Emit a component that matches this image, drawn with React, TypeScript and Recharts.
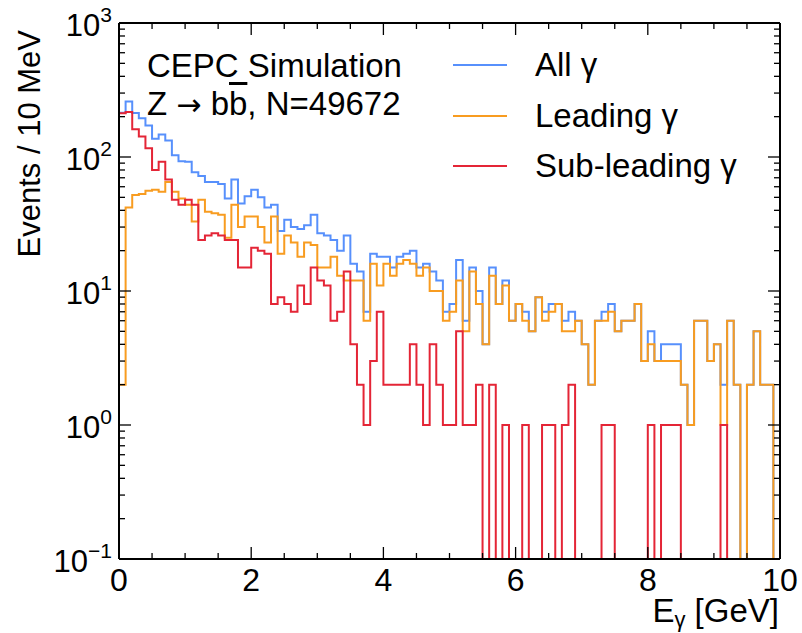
import React from "react";
import { LineChart, Line, XAxis, YAxis, Legend } from "recharts";

const FONT = '"Liberation Sans", Arial, Helvetica, sans-serif';

// 100 bins of 0.1 GeV between 0 and 10 GeV
const BIN_WIDTH = 0.1;

const ALL_GAMMA = [
    214, 259, 213, 195, 172, 137, 147, 133, 103, 93,
    92, 77, 72, 65, 65, 63, 49, 68, 45, 51,
    57, 50, 42, 44, 28, 34, 30, 29, 31, 37,
    27, 26, 24, 20, 26, 16, 14, 7, 19, 18,
    18, 15, 18, 19, 20, 15, 16, 14, 12, 7,
    8, 17, 6, 15, 10, 4, 15, 8, 12, 6,
    8, 7, 5, 9, 7, 8, 8, 6, 7, 6,
    4, 2, 6, 7, 8, 5, 6, 6, 8, 3,
    5, 3, 4, 4, 4, 2, 1, 6, 6, 3,
    4, 2, 6, 2, 0, 2, 5, 2, 2, 0,
];

const LEADING_GAMMA = [
    2, 42, 52, 53, 56, 57, 55, 65, 55, 49,
    44, 33, 48, 39, 38, 37, 25, 44, 30, 36,
    36, 30, 23, 36, 19, 26, 23, 18, 23, 22,
    15, 15, 18, 13, 12, 12, 12, 6, 16, 11,
    16, 13, 16, 17, 16, 13, 15, 10, 10, 6,
    7, 12, 5, 14, 8, 4, 13, 8, 11, 6,
    8, 6, 5, 9, 6, 7, 8, 5, 5, 6,
    4, 2, 6, 6, 7, 5, 6, 6, 8, 3,
    4, 3, 3, 3, 3, 2, 1, 6, 6, 3,
    4, 1, 6, 2, 0, 2, 5, 2, 2, 0,
];

const SUBLEADING_GAMMA = [
    212, 217, 161, 142, 116, 80, 92, 68, 48, 44,
    48, 44, 24, 26, 27, 26, 24, 24, 15, 15,
    21, 20, 19, 8, 9, 8, 7, 11, 8, 15,
    12, 11, 6, 7, 14, 4, 2, 1, 3, 7,
    2, 2, 2, 2, 4, 2, 1, 4, 2, 1,
    1, 5, 1, 1, 2, 0, 2, 0, 1, 0,
    0, 1, 0, 0, 1, 1, 0, 1, 2, 0,
    0, 0, 0, 1, 1, 0, 0, 0, 0, 0,
    1, 0, 1, 1, 1, 0, 0, 0, 0, 0,
    0, 1, 0, 0, 0, 0, 0, 0, 0, 0,
];

const SERIES = [
    { key: "all", name: "All γ", color: "#5790fc", values: ALL_GAMMA },
    { key: "leading", name: "Leading γ", color: "#f89c20", values: LEADING_GAMMA },
    { key: "sub", name: "Sub-leading γ", color: "#e42536", values: SUBLEADING_GAMMA },
];

const X_TICKS = [0, 0.5, 1, 1.5, 2, 2.5, 3, 3.5, 4, 4.5, 5, 5.5, 6, 6.5, 7, 7.5, 8, 8.5, 9, 9.5, 10];
const X_MAJOR = [0, 2, 4, 6, 8, 10];
const Y_TICKS = [
    0.1, 0.2, 0.3, 0.4, 0.5, 0.6, 0.7, 0.8, 0.9,
    1, 2, 3, 4, 5, 6, 7, 8, 9,
    10, 20, 30, 40, 50, 60, 70, 80, 90,
    100, 200, 300, 400, 500, 600, 700, 800, 900,
    1000,
];

// empty bins are pushed below the axis floor so the step drops out of the frame
const EMPTY = 1e-3;

const nBins = ALL_GAMMA.length;
const data = [];
for (let i = 0; i <= nBins; i++) {
    const j = Math.min(i, nBins - 1);
    const row: any = { x: +(i * BIN_WIDTH).toFixed(2) };
    SERIES.forEach(s => {
        row[s.key] = s.values[j] > 0 ? s.values[j] : EMPTY;
    });
    data.push(row);
}

const isMajorX = (v: number) => X_MAJOR.some(m => Math.abs(m - v) < 1e-6);
const isMajorY = (v: number) => Math.abs(Math.log10(v) - Math.round(Math.log10(v))) < 1e-6;

const XTick = ({ x, y, payload, side }: any) => {
    const major = isMajorX(payload.value);
    const len = major ? 12 : 6;
    const dir = side === "bottom" ? -1 : 1;
    return (
        <g>
            <line x1={x} y1={y} x2={x} y2={y + dir * len} stroke="#000" strokeWidth={1.3} />
            {side === "bottom" && major && (
                <text x={x} y={y + 32} textAnchor="middle" fontSize={32} fontFamily={FONT} fill="#000">
                    {payload.value}
                </text>
            )}
        </g>
    );
};

const YTick = ({ x, y, payload, side }: any) => {
    const major = isMajorY(payload.value);
    const len = major ? 12 : 6;
    const dir = side === "left" ? 1 : -1;
    const exp = Math.round(Math.log10(payload.value));
    return (
        <g>
            <line x1={x} y1={y} x2={x + dir * len} y2={y} stroke="#000" strokeWidth={1.3} />
            {side === "left" && major && (
                <text x={x - 7} y={y + 13} textAnchor="end" fontSize={31} fontFamily={FONT} fill="#000">
                    10
                    <tspan fontSize={21} dy={-14}>{exp < 0 ? "\u2212" + Math.abs(exp) : exp}</tspan>
                </text>
            )}
        </g>
    );
};

const LegendBox = ({ payload }: any) => (
    <div style={{ fontFamily: FONT }}>
        {(payload || []).map((e: any) => (
            <div key={e.value} style={{ display: "flex", alignItems: "center", height: 50.5 }}>
                <div style={{ width: 54, height: 0, borderTop: `2px solid ${e.color}` }} />
                <span style={{ marginLeft: 28, fontSize: 33, lineHeight: "50px", color: "#000" }}>{e.value}</span>
            </div>
        ))}
    </div>
);

const frame = { stroke: "#000", strokeWidth: 2 };

export default function App() {
    return (
        <div style={{ position: "absolute", left: 0, top: 0, width: 802, height: 633, background: "#fff", fontFamily: FONT }}>
            <LineChart width={802} height={633} data={data} margin={{ top: 22, right: 21, bottom: 0, left: 0 }}>
                <XAxis
                    xAxisId="b"
                    dataKey="x"
                    type="number"
                    domain={[0, 10]}
                    allowDataOverflow
                    ticks={X_TICKS}
                    interval={0}
                    height={74}
                    tickSize={0}
                    tickMargin={0}
                    tickLine={false}
                    axisLine={frame}
                    tick={(p: any) => <XTick {...p} side="bottom" />}
                />
                <XAxis
                    xAxisId="t"
                    orientation="top"
                    dataKey="x"
                    type="number"
                    domain={[0, 10]}
                    allowDataOverflow
                    ticks={X_TICKS}
                    interval={0}
                    height={1}
                    tickSize={0}
                    tickMargin={0}
                    tickLine={false}
                    axisLine={frame}
                    tick={(p: any) => <XTick {...p} side="top" />}
                />
                <YAxis
                    yAxisId="l"
                    type="number"
                    scale="log"
                    domain={[0.1, 1000]}
                    allowDataOverflow
                    ticks={Y_TICKS}
                    interval={0}
                    width={119}
                    tickSize={0}
                    tickMargin={0}
                    tickLine={false}
                    axisLine={frame}
                    tick={(p: any) => <YTick {...p} side="left" />}
                />
                <YAxis
                    yAxisId="r"
                    orientation="right"
                    type="number"
                    scale="log"
                    domain={[0.1, 1000]}
                    allowDataOverflow
                    ticks={Y_TICKS}
                    interval={0}
                    width={1}
                    tickSize={0}
                    tickMargin={0}
                    tickLine={false}
                    axisLine={frame}
                    tick={(p: any) => <YTick {...p} side="right" />}
                />
                {SERIES.map(s => (
                    <Line
                        key={s.key}
                        xAxisId="b"
                        yAxisId="l"
                        dataKey={s.key}
                        name={s.name}
                        type="stepAfter"
                        stroke={s.color}
                        strokeWidth={2}
                        dot={false}
                        activeDot={false}
                        isAnimationActive={false}
                    />
                ))}
                <Legend
                    content={<LegendBox />}
                    layout="vertical"
                    align="center"
                    verticalAlign="middle"
                    wrapperStyle={{ top: 40, left: 453, width: 330 }}
                />
            </LineChart>

            <div style={{ position: "absolute", left: 147, top: 49, fontSize: 33, lineHeight: 1, whiteSpace: "nowrap", color: "#000" }}>
                CEPC Simulation
            </div>
            <div style={{ position: "absolute", left: 147, top: 87, fontSize: 33, lineHeight: 1, whiteSpace: "nowrap", color: "#000" }}>
                Z <span style={{ fontFamily: '"DejaVu Sans", sans-serif', fontSize: 30 }}>→</span> b<span style={{ textDecoration: "overline" }}>b</span>, N=49672
            </div>

            <svg width={802} height={633} style={{ position: "absolute", left: 0, top: 0, pointerEvents: "none" }}>
                <text transform="rotate(-90)" x={-30} y={40} textAnchor="end" fontSize={31} fontFamily={FONT} fill="#000">
                    Events / 10 MeV
                </text>
                <text x={779} y={622} textAnchor="end" fontSize={33} fontFamily={FONT} fill="#000">
                    E<tspan fontSize={22} dy={5}>γ</tspan>
                    <tspan dy={-5}>{"\u00a0[GeV]"}</tspan>
                </text>
            </svg>
        </div>
    );
}
